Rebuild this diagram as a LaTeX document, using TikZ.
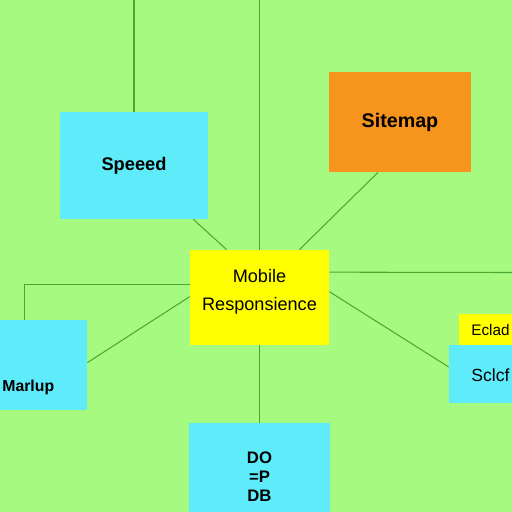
\documentclass[tikz,border=0pt]{standalone}
\usepackage{fontspec}
\setmainfont{Liberation Sans}
\usetikzlibrary{calc}

\definecolor{bggreen}{RGB}{166,250,128}
\definecolor{linegreen}{RGB}{76,168,52}
\definecolor{boxcyan}{RGB}{94,236,250}
\definecolor{boxorange}{RGB}{247,148,30}
\definecolor{boxyellow}{RGB}{255,255,0}

\tikzset{
  box/.style={inner sep=0pt, draw=none},
  link/.style={draw=linegreen, line width=0.6pt},
  txt/.style={inner sep=0pt, anchor=west}
}

\begin{document}
\begin{tikzpicture}[x=0.02cm,y=-0.02cm]
    \clip (0,0) rectangle (512,512);
    \fill[bggreen] (0,0) rectangle (512,512);

    % boxes
    \node[box, fill=boxcyan, minimum width=2.96cm, minimum height=2.14cm,
          font=\fontsize{10.4}{12}\selectfont\bfseries] (speed) at (134,165.5) {Speeed};
    \node[box, fill=boxorange, minimum width=2.84cm, minimum height=2cm,
          font=\fontsize{11.2}{13}\selectfont\bfseries] (sitemap) at (400,122) {Sitemap};
    \node[box, fill=boxyellow, minimum width=2.78cm, minimum height=1.9cm] (mobile) at (259.5,297.5) {};
    \node[box, fill=boxcyan, minimum width=1.8cm, minimum height=1.8cm] (marlup) at (42,365) {};
    \node[box, fill=boxcyan, minimum width=2.82cm, minimum height=1.84cm] (dbbox) at (259.5,469) {};
    \node[box, fill=boxyellow, minimum width=1.22cm, minimum height=0.62cm] (eclad) at (489.5,329.5) {};
    \node[box, fill=boxcyan, minimum width=1.42cm, minimum height=1.16cm] (sclcf) at (484.5,374) {};

    % texts
    \node[inner sep=0pt, align=center, font=\fontsize{10.3}{16}\selectfont] (mobiletxt)
        at ($(mobile.center)+(0,-6)$) {Mobile\\Responsience};
    \node[inner sep=0pt, align=center, font=\fontsize{9.5}{10.8}\selectfont\bfseries] (dbtxt)
        at ($(dbbox.center)+(0,8)$) {DO\\=P\\DB};
    \node[txt, font=\fontsize{9}{11}\selectfont\bfseries] (marluptxt) at (2,387) {Marlup};
    \node[txt, font=\fontsize{8.7}{10}\selectfont] (ecladtxt) at (471,330) {Eclad};
    \node[txt, font=\fontsize{10}{12}\selectfont] (sclcftxt) at (471,375) {Sclcf};

    % free ends
    \coordinate (topa) at (134,0);
    \coordinate (topb) at (259.5,0);
    \coordinate (rightend) at (512,272.5);

    % connectors
    \draw[link] (topa) -- (speed.north);
    \draw[link] (topb) -- (mobile.north);
    \draw[link] ($(speed.south east)+(-15,0)$) -- ($(mobile.north west)+(37,0)$);
    \draw[link] ($(sitemap.south)+(-22,0)$) -- ($(mobile.north east)+(-30,0)$);
    \draw[link] ($(mobile.north east)+(0,22.5)$) -- (rightend);
    \draw[link] ($(mobile.north east)+(0,42)$) -- ($(sclcf.west)+(0,-7)$);
    \draw[link] ($(mobile.north west)+(0,35)$) -| ($(marlup.north west)+(28,0)$);
    \draw[link] ($(mobile.north west)+(0,47)$) -- ($(marlup.north east)+(0,43)$);
    \draw[link] (mobile.south) -- (dbbox.north);
\end{tikzpicture}
\end{document}
